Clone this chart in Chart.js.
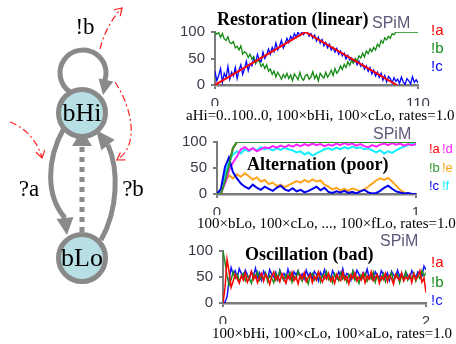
<!DOCTYPE html>
<html>
<head>
<meta charset="utf-8">
<script src="https://cdn.jsdelivr.net/npm/chart.js@4.4.0/dist/chart.umd.min.js"></script>
<style>
body{margin:0;background:#fff;}
#wrap{position:relative;width:456px;height:344px;overflow:hidden;background:#fff;}
canvas{position:absolute;}
</style>
</head>
<body>
<div id="wrap">
<canvas id="gate" width="165" height="344" style="left:0;top:0"></canvas>
<canvas id="restore" width="286" height="124" style="left:170px;top:0"></canvas>
<canvas id="alternate" width="286" height="114" style="left:170px;top:120px"></canvas>
<canvas id="oscillate" width="286" height="114" style="left:170px;top:230px"></canvas>
</div>
<script>

/* gate: two states and the guards on its transitions */

var gateStates = ['bHi', 'bLo'];
var gateGuards = ['!b', '?a', '?b'];

var yTicks = [0, 50, 100];

/* restoration run, one sample per time unit, t = 0..110 */

var restTicks = [0, 110];
var restAX = [0, 49, 98.5];
var restA = [0, 100, 0];
var restB = [
100, 96, 99, 90, 97, 87, 84, 91, 80, 78,
82, 70, 73, 66, 74, 58, 63, 60, 52, 58,
49, 53, 41, 47, 44, 35, 40, 31, 38, 26,
30, 20, 26, 15, 24, 18, 11, 20, 14, 22,
12, 19, 8, 21, 16, 10, 24, 13, 9, 18,
20, 11, 15, 25, 12, 19, 8, 22, 17, 13,
24, 15, 20, 28, 18, 31, 22, 27, 36, 29,
39, 33, 44, 37, 46, 41, 50, 45, 55, 51,
60, 53, 64, 59, 68, 63, 71, 66, 77, 72,
84, 79, 89, 85, 92, 88, 97, 95, 100, 100,
100, 100, 100, 100, 100, 100, 100, 100, 100, 100,
100
];
var restC = [
26, 8, 18, 31, 5, 22, 14, 35, 11, 24,
17, 33, 12, 28, 38, 20, 31, 45, 27, 40,
36, 52, 41, 58, 47, 44, 62, 50, 57, 68,
58, 71, 63, 79, 66, 73, 84, 70, 78, 88,
80, 92, 86, 97, 90, 100, 93, 99, 95, 100,
100, 92, 97, 88, 94, 83, 90, 79, 86, 74,
80, 70, 77, 66, 71, 62, 69, 58, 64, 55,
60, 49, 56, 47, 51, 42, 49, 38, 45, 35,
40, 30, 36, 26, 33, 21, 28, 17, 24, 14,
22, 9, 18, 6, 16, 12, 4, 14, 7, 11,
3, 15, 6, 1, 12, 8, 2, 16, 5, 10,
4
];

/* alternation run, t = 0..1, step 0.02 */

var altTicks = [0, 1];
var altStep = 0.02;
var altA = [
0, 0, 25, 55, 88, 100, 100, 100, 100, 100,
100, 100, 100, 100, 100, 100, 100, 100, 100, 100,
100, 100, 100, 100, 100, 100, 100, 100, 100, 100,
100, 100, 100, 100, 100, 100, 100, 100, 100, 100,
100, 100, 100, 100, 100, 100, 100, 100, 100, 100,
100
];
var altB = [
0, 0, 25, 55, 88, 100, 100, 100, 100, 100,
100, 100, 100, 100, 100, 100, 100, 100, 100, 100,
100, 100, 100, 100, 100, 100, 100, 100, 100, 100,
100, 100, 100, 100, 100, 100, 100, 100, 100, 100,
100, 100, 100, 100, 100, 100, 100, 100, 100, 100,
100
];
var altC = [
0, 10, 52, 70, 42, 30, 20, 14, 10, 18,
12, 8, 14, 10, 6, 12, 16, 9, 6, 11,
5, 8, 3, 6, 10, 14, 7, 12, 4, 2,
5, 3, 6, 2, 4, 1, 5, 8, 3, 1,
2, 6, 12, 16, 10, 5, 3, 1, 2, 0,
0
];
var altD = [
0, 2, 20, 45, 60, 72, 86, 90, 84, 88,
82, 86, 90, 88, 92, 89, 93, 90, 94, 91,
95, 92, 96, 93, 97, 94, 96, 92, 95, 93,
97, 94, 98, 95, 97, 93, 96, 92, 90, 94,
91, 95, 97, 94, 98, 95, 97, 93, 96, 94,
96
];
var altE = [
0, 6, 22, 36, 30, 38, 33, 40, 34, 28,
32, 24, 27, 19, 22, 15, 18, 13, 17, 21,
25, 22, 27, 23, 28, 24, 26, 18, 14, 9,
12, 7, 10, 6, 11, 8, 5, 9, 14, 20,
26, 30, 27, 31, 24, 16, 8, 3, 1, 0,
0
];
var altF = [
0, 5, 38, 62, 76, 82, 78, 86, 82, 88,
84, 90, 86, 88, 84, 88, 85, 89, 86, 84,
80, 82, 76, 80, 74, 78, 82, 86, 88, 85,
89, 86, 90, 87, 91, 88, 90, 86, 88, 84,
80, 84, 78, 82, 79, 84, 88, 91, 94, 96,
95
];

/* oscillation run, t = 0..2, step 0.02 */

var oscTicks = [0, 2];
var oscStep = 0.02;
var oscA = [
0, 30, 84, 60, 30, 42, 55, 47, 38, 52,
44, 58, 40, 49, 61, 45, 53, 39, 50, 57,
42, 55, 48, 36, 51, 60, 44, 52, 41, 56,
47, 38, 53, 45, 59, 43, 50, 37, 54, 46,
58, 41, 49, 55, 39, 52, 44, 60, 47, 40,
53, 46, 57, 42, 50, 38, 55, 48, 43, 59,
45, 51, 37, 54, 47, 58, 42, 50, 44, 56,
39, 52, 46, 60, 43, 49, 55, 38, 51, 45,
57, 41, 53, 47, 36, 55, 48, 44, 58, 42,
50, 46, 54, 39, 56, 45, 51, 62, 40, 48,
20
];
var oscB = [
100, 78, 52, 34, 45, 60, 48, 55, 42, 50,
57, 43, 52, 47, 38, 55, 49, 60, 44, 51,
46, 58, 41, 53, 48, 39, 56, 45, 62, 50,
43, 54, 47, 58, 40, 52, 46, 61, 49, 42,
55, 48, 37, 53, 57, 44, 50, 59, 41, 54,
47, 60, 45, 51, 39, 56, 49, 43, 58, 46,
52, 40, 55, 48, 61, 44, 50, 38, 54, 47,
57, 42, 51, 46, 59, 40, 53, 48, 44, 56,
41, 52, 47, 58, 43, 50, 55, 39, 53, 46,
60, 44, 51, 48, 57, 42, 54, 47, 62, 52,
58
];
var oscC = [
0, 2, 12, 45, 68, 55, 62, 48, 66, 57,
50, 63, 54, 46, 60, 52, 67, 49, 58, 44,
61, 53, 47, 64, 55, 50, 59, 45, 63, 52,
57, 48, 65, 51, 44, 60, 54, 62, 49, 56,
46, 63, 52, 58, 47, 61, 55, 43, 59, 51,
64, 50, 56, 45, 62, 53, 47, 60, 52, 66,
48, 57, 54, 44, 61, 50, 63, 55, 46, 58,
52, 65, 49, 56, 45, 60, 53, 47, 62, 55,
50, 58, 44, 61, 54, 49, 63, 51, 57, 46,
59, 53, 48, 62, 55, 50, 60, 56, 52, 71,
64
];


/* shared look */

var axisColor = '#7b7b7b';
var tickColor = '#3d3848';
var tickFont = {family: '"Liberation Sans", Arial, sans-serif', size: 15};

/* panel titles, SPiM tag, caption and the coloured key */
var panelText = {
  id: 'panelText',
  afterDraw: function(chart, args, o){
    var c = chart.ctx;
    c.save();
    c.textAlign = 'left';
    c.textBaseline = 'alphabetic';
    c.fillStyle = '#000';
    c.font = 'bold 18px "Liberation Serif"';
    c.fillText(o.title, o.titleAt[0], o.titleAt[1]);
    c.fillStyle = '#5d5878';
    c.font = '16px "Liberation Sans"';
    c.fillText('SPiM', o.spimAt[0], o.spimAt[1]);
    c.fillStyle = '#000';
    c.font = '15px "Liberation Serif"';
    c.fillText(o.caption, o.captionAt[0], o.captionAt[1]);
    c.font = o.keyFont;
    chart.data.datasets.forEach(function(ds, i){
      var col = Math.floor(i / o.keyRows.length);
      var row = i % o.keyRows.length;
      c.fillStyle = ds.borderColor;
      c.fillText(ds.label, o.keyCols[col], o.keyRows[row]);
    });
    c.restore();
  }
};

function series(label, xs, ys, color, width, order){
  return {
    label: label,
    data: ys.map(function(v, i){ return {x: xs(i), y: v}; }),
    borderColor: color,
    borderWidth: width,
    pointRadius: 0,
    fill: false,
    order: order || 0
  };
}

function panelOptions(xMax, xTicks, pad, text){
  return {
    responsive: false,
    animation: false,
    devicePixelRatio: 1,
    layout: {padding: pad, autoPadding: false},
    plugins: {legend: {display: false}, tooltip: {enabled: false}, panelText: text},
    elements: {line: {tension: 0}},
    scales: {
      x: {
        type: 'linear', min: 0, max: xMax,
        afterBuildTicks: function(s){ s.ticks = xTicks.map(function(v){ return {value: v}; }); },
        afterFit: function(s){ s.height = 21; },
        ticks: {font: tickFont, color: tickColor, padding: 6, maxRotation: 0, autoSkip: false},
        grid: {drawOnChartArea: false, tickLength: 4, color: axisColor, lineWidth: 2},
        border: {color: axisColor, width: 2.5}
      },
      y: {
        min: 0, max: 100,
        afterBuildTicks: function(s){ s.ticks = yTicks.map(function(v){ return {value: v}; }); },
        afterFit: function(s){ s.width = 40; },
        ticks: {font: tickFont, color: tickColor, padding: 6},
        grid: {drawOnChartArea: false, tickLength: 4, color: axisColor, lineWidth: 2},
        border: {color: axisColor, width: 2}
      }
    }
  };
}

/* Restoration (linear) */

new Chart(document.getElementById('restore'), {
  type: 'line',
  data: {
    datasets: [
      series('!a', function(i){ return restAX[i]; }, restA, '#ff0000', 2),
      series('!b', function(i){ return i; }, restB, '#138a13', 1.3),
      series('!c', function(i){ return i; }, restC, '#0000ff', 1.3)
    ]
  },
  options: panelOptions(110, restTicks, {left: 5, right: 38, top: 32, bottom: 18}, {
    title: 'Restoration (linear)', titleAt: [47, 25],
    spimAt: [202, 28],
    caption: 'aHi=0..100..0, 100\u00d7bHi, 100\u00d7cLo, rates=1.0', captionAt: [16, 120],
    keyFont: '15px "Liberation Sans"', keyCols: [261], keyRows: [35, 53, 71]
  }),
  plugins: [panelText]
});

/* Alternation (poor) */

function altX(i){ return i * altStep; }

new Chart(document.getElementById('alternate'), {
  type: 'line',
  data: {
    datasets: [
      series('!a', altX, altA, '#ff0000', 2, 5),
      series('!b', altX, altB, '#2f9a2f', 2),
      series('!c', altX, altC, '#0000ee', 2),
      series('!d', altX, altD, '#ff22ff', 2),
      series('!e', altX, altE, '#ffa31a', 2),
      series('!f', altX, altF, '#11f0ff', 2)
    ]
  },
  options: panelOptions(1, altTicks, {left: 7, right: 40, top: 22, bottom: 19}, {
    title: 'Alternation (poor)', titleAt: [77, 50],
    spimAt: [203, 19],
    caption: '100\u00d7bLo, 100\u00d7cLo, ..., 100\u00d7fLo, rates=1.0', captionAt: [27, 108],
    keyFont: '13px "Liberation Sans"', keyCols: [259, 272], keyRows: [33, 52, 70]
  }),
  plugins: [panelText]
});

/* Oscillation (bad) */

function oscX(i){ return i * oscStep; }

new Chart(document.getElementById('oscillate'), {
  type: 'line',
  data: {
    datasets: [
      series('!a', oscX, oscA, '#ff0000', 1.5),
      series('!b', oscX, oscB, '#1a8c1a', 1.5),
      series('!c', oscX, oscC, '#1515ff', 1.5)
    ]
  },
  options: panelOptions(2, oscTicks, {left: 13, right: 30, top: 21, bottom: 20}, {
    title: 'Oscillation (bad)', titleAt: [75, 30],
    spimAt: [210, 16],
    caption: '100\u00d7bHi, 100\u00d7cLo, 100\u00d7aLo, rates=1.0', captionAt: [42, 108],
    keyFont: '15px "Liberation Sans"', keyCols: [261], keyRows: [37, 57, 75]
  }),
  plugins: [panelText]
});


/* state diagram: nodes are scatter points, edges drawn underneath */

var gateLayout = {
  nodes: [[82, 113], [82, 258]],
  labels: [[85, 34], [29, 196], [133, 196]],
  loop: {c: [83, 73], r: 23, from: 125, to: 382, tip: [103, 95], base: [106, 80]},
  curves: [
    {pts: [[64, 128], [46, 160], [46, 196], [65, 218]], tip: [67, 235]},
    {pts: [[101, 240], [118, 210], [119, 170], [108, 145]], tip: [96, 130]}
  ],
  dotted: {from: [82, 232], to: [82, 146], tip: [82, 130]},
  signals: [
    [[100, 49], [104, 33], [112, 18], [122, 8]],
    [[115, 82], [132, 108], [140, 145], [117, 160]],
    [[10, 122], [26, 128], [38, 142], [42, 158]]
  ]
};

var gateEdges = {
  id: 'gateEdges',
  beforeDatasetsDraw: function(chart){
    var c = chart.ctx, sx = chart.scales.x, sy = chart.scales.y;
    function P(p){ return [sx.getPixelForValue(p[0]), sy.getPixelForValue(p[1])]; }
    function head(tip, base, w, open){
      var t = P(tip), b = P(base);
      var dx = t[0] - b[0], dy = t[1] - b[1], len = Math.sqrt(dx * dx + dy * dy);
      var nx = -dy / len * w, ny = dx / len * w;
      c.beginPath();
      c.moveTo(b[0] + nx, b[1] + ny);
      c.lineTo(t[0], t[1]);
      c.lineTo(b[0] - nx, b[1] - ny);
      if (open) { c.stroke(); } else { c.closePath(); c.fill(); }
    }
    c.save();
    c.strokeStyle = '#8a8a8a';
    c.fillStyle = '#8a8a8a';
    c.lineWidth = 5;

    var L = gateLayout.loop, lc = P(L.c);
    c.beginPath();
    c.arc(lc[0], lc[1], L.r, L.from * Math.PI / 180, L.to * Math.PI / 180, false);
    c.stroke();
    head(L.tip, L.base, 7.5);

    gateLayout.curves.forEach(function(e){
      var p = e.pts.map(P);
      c.beginPath();
      c.moveTo(p[0][0], p[0][1]);
      c.bezierCurveTo(p[1][0], p[1][1], p[2][0], p[2][1], p[3][0], p[3][1]);
      c.stroke();
      head(e.tip, e.pts[3], 8.5);
    });

    var D = gateLayout.dotted, d0 = P(D.from), d1 = P(D.to);
    c.setLineDash([5, 5]);
    c.beginPath();
    c.moveTo(d0[0], d0[1]);
    c.lineTo(d1[0], d1[1]);
    c.stroke();
    c.setLineDash([]);
    head(D.tip, D.to, 10);

    c.strokeStyle = '#ff1f1f';
    c.lineWidth = 1.2;
    gateLayout.signals.forEach(function(s){
      var p = s.map(P);
      c.setLineDash([7, 3, 2, 3]);
      c.beginPath();
      c.moveTo(p[0][0], p[0][1]);
      c.bezierCurveTo(p[1][0], p[1][1], p[2][0], p[2][1], p[3][0], p[3][1]);
      c.stroke();
      c.setLineDash([]);
      var dx = s[3][0] - s[2][0], dy = s[3][1] - s[2][1], len = Math.sqrt(dx * dx + dy * dy);
      head(s[3], [s[3][0] - dx / len * 7, s[3][1] - dy / len * 7], 4.5, true);
    });
    c.restore();
  },
  afterDatasetsDraw: function(chart){
    var c = chart.ctx, sx = chart.scales.x, sy = chart.scales.y;
    c.save();
    c.fillStyle = '#000';
    c.textAlign = 'center';
    c.textBaseline = 'alphabetic';
    c.font = '26px "Liberation Serif"';
    gateStates.forEach(function(name, i){
      var n = gateLayout.nodes[i];
      c.fillText(name, sx.getPixelForValue(n[0]), sy.getPixelForValue(n[1]) + 8);
    });
    c.font = '23px "Liberation Serif"';
    gateGuards.forEach(function(g, i){
      var p = gateLayout.labels[i];
      c.fillText(g, sx.getPixelForValue(p[0]), sy.getPixelForValue(p[1]));
    });
    c.restore();
  }
};

new Chart(document.getElementById('gate'), {
  type: 'scatter',
  data: {
    datasets: [{
      data: gateLayout.nodes.map(function(n){ return {x: n[0], y: n[1]}; }),
      pointRadius: 23.5,
      pointHoverRadius: 23.5,
      pointBorderWidth: 5,
      pointBackgroundColor: '#b8dfe3',
      pointBorderColor: '#898989',
      clip: false
    }]
  },
  options: {
    responsive: false,
    animation: false,
    devicePixelRatio: 1,
    layout: {padding: 0, autoPadding: false},
    plugins: {legend: {display: false}, tooltip: {enabled: false}},
    scales: {
      x: {display: false, min: 0, max: 165},
      y: {display: false, min: 0, max: 344, reverse: true}
    }
  },
  plugins: [gateEdges]
});
</script>
</body>
</html>
